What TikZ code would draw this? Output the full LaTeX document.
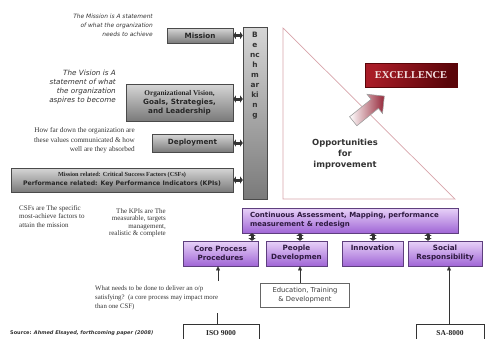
\documentclass[tikz,border=0pt]{standalone}
\usepackage{fontspec}
\setmainfont{Liberation Serif}
\newfontfamily\dvs{DejaVu Sans}
\usetikzlibrary{arrows.meta,shapes.arrows}
\definecolor{gtop}{HTML}{D6D6D6}
\definecolor{gbot}{HTML}{7A7A7A}
\definecolor{gdraw}{HTML}{4A4A4A}
\definecolor{ptop}{HTML}{E8D2F8}
\definecolor{pbot}{HTML}{A066D6}
\definecolor{pdraw}{HTML}{5E3F7E}
\definecolor{ptext}{HTML}{2E1A40}
\definecolor{rtop}{HTML}{A81C27}
\definecolor{rbot}{HTML}{5A0509}
\definecolor{tricol}{HTML}{D7A3AA}
\definecolor{arrcol}{HTML}{333333}
\definecolor{notecol}{HTML}{333333}
\definecolor{arrfill}{HTML}{96283A}
\tikzset{
  boxtxt/.style={font=\dvs\bfseries\fontsize{7.2}{9}\selectfont},
  graybox/.style={draw=gdraw, line width=0.6pt, top color=gtop, bottom color=gbot,
    align=center, inner sep=0pt, text=black!85, boxtxt},
  purplebox/.style={draw=pdraw, line width=0.6pt, top color=ptop, bottom color=pbot,
    align=center, inner sep=0pt, text=ptext, boxtxt},
  whitebox/.style={draw=gray!80!black, line width=0.6pt, fill=white, align=center, inner sep=0pt},
  dbltip/.tip={Triangle[length=2.6pt,width=7pt,line width=0.01pt]},
  dbl/.style={draw=arrcol, line width=3pt, dbltip-dbltip},
  uparr/.style={draw=arrcol, line width=0.6pt, -{Triangle[length=4pt,width=4pt,line width=0.01pt]}},
  plain/.style={draw=arrcol, line width=0.6pt},
  note/.style={inner sep=0pt, text=notecol},
}
\begin{document}
\begin{tikzpicture}[x=1pt,y=-1pt]
\useasboundingbox (0,0) rectangle (486,338);
\clip (0,0) rectangle (486,338);

% benchmarking bar
\node[graybox, minimum width=24pt, minimum height=172pt] (bench) at (255,113) {};
\node[note, text=black!80, align=center, font=\dvs\bfseries\fontsize{7.4}{9.9}\selectfont] (benchtxt) at (255,75.5)
  {B\\e\\nc\\h\\m\\ar\\ki\\n\\g};

% left gray boxes
\node[graybox, minimum width=66pt, minimum height=15pt] (mission) at (200,35.5) {Mission};
\node[graybox, minimum width=107pt, minimum height=37pt] (vision) at (179.5,102.5)
  {{\rmfamily\bfseries\fontsize{7.3}{9.5}\selectfont Organizational Vision,}\\Goals, Strategies,\\and Leadership};
\node[graybox, minimum width=81pt, minimum height=18pt] (deploy) at (192.5,143) {Deployment};
\node[graybox, minimum width=222pt, minimum height=24pt] (csf) at (122,180)
  {{\rmfamily\bfseries\fontsize{6.2}{7.2}\selectfont Mission related: Critical Success Factors (CSFs)}\\
   {\fontsize{6.2}{7.2}\selectfont Performance related: Key Performance Indicators (KPIs)}};

% double arrows to benchmarking
\draw[dbl] (mission.east) -- (mission.east -| bench.west);
\coordinate (vy) at (0,99);
\draw[dbl] (vision.east |- vy) -- (bench.west |- vy);
\draw[dbl] (deploy.east) -- (deploy.east -| bench.west);
\draw[dbl] (csf.east) -- (csf.east -| bench.west);

% annotations left
\node[note, anchor=east, align=right, font=\dvs\itshape\fontsize{5.9}{9}\selectfont] (mnote) at (153,25)
  {The Mission is A statement\\of what the organization\\needs to achieve};
\node[note, anchor=east, align=right, font=\dvs\itshape\fontsize{7.2}{9.2}\selectfont] (vnote) at (116,87)
  {The Vision is A\\statement of what\\the organization\\aspires to become};
\node[note, anchor=east, align=right, font=\fontsize{7.2}{9.5}\selectfont] (dnote) at (135,140.5)
  {How far down the organization are\\these values communicated \& how\\well are they absorbed};
\node[note, anchor=west, align=left, font=\fontsize{7}{8.5}\selectfont] (cnote) at (19,216.5)
  {CSFs are The specific\\most-achieve factors to\\attain the mission};
\node[note, anchor=east, align=right, font=\fontsize{7}{7.5}\selectfont] (knote) at (166,223)
  {The KPIs are The\\measurable, targets\\management,\\realistic \& complete};
\node[note, anchor=west, align=left, font=\fontsize{6.8}{9}\selectfont] (wnote) at (95,298)
  {What needs to be done to deliver an o/p\\satisfying?\ \ (a core process may impact more\\than one CSF)};
\node[note, anchor=west, font=\dvs\bfseries\fontsize{5}{6}\selectfont] (src) at (10,333.5)
  {Source: \itshape Ahmed Elsayed, forthcoming paper (2008)};

% triangle and excellence
\draw[tricol, line width=0.7pt] (283,28) -- (283,199) -- (455,199) -- cycle;
\node[draw=rbot, line width=0.5pt, left color=rtop, right color=rbot, shading angle=70,
  minimum width=92pt, minimum height=24pt, inner sep=0pt,
  font=\bfseries\fontsize{10.5}{12}\selectfont, text={rgb,255:red,245;green,228;blue,228}] (exc) at (411,75) {EXCELLENCE};
\node[single arrow, draw=gray!75, line width=0.6pt, minimum height=40pt, inner sep=5.5pt,
  single arrow head extend=6.5pt, left color=white, right color=arrfill, rotate=39] (big) at (366.5,110.5) {};
\node[note, align=center, text=black!80, font=\dvs\bfseries\fontsize{8.4}{10.8}\selectfont] (opp) at (345,154)
  {Opportunities\\for\\improvement};

% purple boxes
\node[purplebox, minimum width=216pt, minimum height=25pt, text width=200pt, align=left, inner xsep=8pt] (cont) at (350,220.5)
  {\fontsize{7}{8.2}\selectfont Continuous Assessment, Mapping, performance\\measurement \& redesign};
\node[purplebox, minimum width=75pt, minimum height=25pt] (core) at (220.5,253.5) {Core Process\\Procedures};
\node[purplebox, minimum width=61pt, minimum height=25pt] (people) at (296.5,253.5) {People\\Developmen};
\node[purplebox, minimum width=61pt, minimum height=25pt] (innov) at (372.5,253.5) {Innovation\\[3pt]};
\node[purplebox, minimum width=74pt, minimum height=25pt] (social) at (445,253.5) {Social\\Responsibility};

\coordinate (a1) at (252,0);
\coordinate (a2) at (300,0);
\coordinate (a3) at (373,0);
\coordinate (a4) at (428,0);
\draw[dbl] (cont.south -| a1) -- (core.north -| a1);
\draw[dbl] (cont.south -| a2) -- (people.north -| a2);
\draw[dbl] (cont.south -| a3) -- (innov.north -| a3);
\draw[dbl] (cont.south -| a4) -- (social.north -| a4);

% lower boxes
\node[whitebox, minimum width=89pt, minimum height=24pt, text=black!75, font=\dvs\fontsize{6.8}{8.5}\selectfont] (edu) at (305,295)
  {Education, Training\\\& Development};
\node[whitebox, draw=black!80, minimum width=76pt, minimum height=18pt, text=black!85,
  font=\bfseries\fontsize{7.5}{9}\selectfont] (iso) at (221,333) {ISO 9000};
\node[whitebox, draw=black!80, minimum width=68pt, minimum height=18pt, text=black!85,
  font=\bfseries\fontsize{7.5}{9}\selectfont] (sa) at (450,333) {SA-8000};

\coordinate (c1) at (218,281);
\coordinate (c2) at (217,313);
\draw[uparr] (c1) -- (core.south -| c1);
\draw[plain] (c2) -- (iso.north -| c2);
\draw[uparr] (edu.north -| a2) -- (people.south -| a2);
\coordinate (s1) at (449,0);
\draw[uparr] (sa.north -| s1) -- (social.south -| s1);
\end{tikzpicture}
\end{document}
